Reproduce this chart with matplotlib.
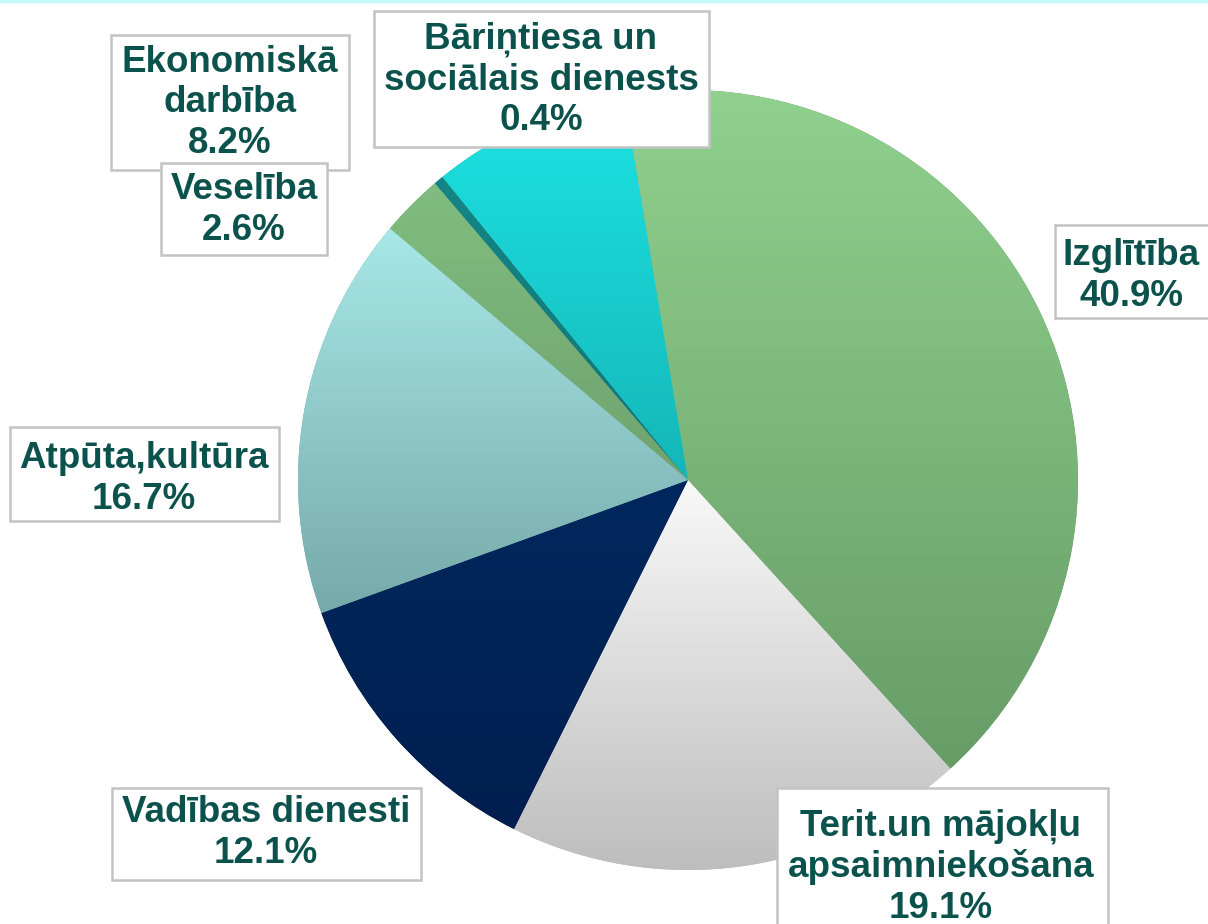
import numpy as np
import matplotlib.pyplot as plt
from matplotlib.patches import Rectangle
from matplotlib.colors import LinearSegmentedColormap

plt.rcParams['font.family'] = ['Liberation Sans', 'DejaVu Sans']

labels = ['Izglītība', 'Terit.un mājokļu\napsaimniekošana', 'Vadības dienesti',
          'Atpūta,kultūra', 'Veselība', 'Bāriņtiesa un\nsociālais dienests',
          'Ekonomiskā\ndarbība']
shares = [40.9, 19.1, 12.1, 16.7, 2.6, 0.4, 8.2]
# top / bottom colour of each slice gradient
grad_top = ['#90d18e', '#f9f9f9', '#00285e', '#a8e8e8', '#80bd80', '#158585', '#1ee3e3']
grad_bot = ['#679c67', '#bdbdbd', '#001f4f', '#76a9aa', '#6fa36f', '#0f7777', '#14b6b8']

# label box layout in pixels (left, top, right, bottom) and text centre
boxes = [(1055, 225, 1212, 318), (777, 788, 1108, 930), (112, 788, 421, 880),
         (10, 427, 279, 521), (161, 163, 327, 255), (374, 11, 709, 147),
         (111, 35, 349, 170)]
text_pos = [(1131, 276), (941, 867), (266, 833), (144, 479), (244, 210),
            (541, 80), (230, 103)]
box_z = [5, 5, 5, 5, 6, 5, 4]

W, H = 1208, 924
fig = plt.figure(figsize=(W / 100, H / 100), dpi=100)
ax = fig.add_axes([0, 0, 1, 1])

cx, cy, r = 688, H - 480, 390
wedges, _ = ax.pie(shares, startangle=99.5, counterclock=False,
                   center=(cx, cy), radius=r, colors=grad_bot,
                   wedgeprops=dict(linewidth=0))

for w, c1, c2 in zip(wedges, grad_top, grad_bot):
    t = np.radians(np.linspace(w.theta1, w.theta2, 100))
    xs = np.concatenate([[cx], cx + r * np.cos(t)])
    ys = np.concatenate([[cy], cy + r * np.sin(t)])
    cmap = LinearSegmentedColormap.from_list('g', [c2, c1])
    grad = np.linspace(0, 1, 256).reshape(-1, 1)
    im = ax.imshow(grad, cmap=cmap, origin='lower', aspect='auto',
                   extent=(xs.min() - 2, xs.max() + 2, ys.min() - 2, ys.max() + 2),
                   zorder=2)
    im.set_clip_path(w)

ax.set_xlim(0, W)
ax.set_ylim(0, H)
ax.set_aspect('equal')
ax.axis('off')

# thin cyan line at the top
ax.axhline(H - 1, color='#c6f7f9', lw=2.5, zorder=1)

for lab, s, (x0, y0, x1, y1), (tx, ty), z in zip(labels, shares, boxes, text_pos, box_z):
    ax.add_patch(Rectangle((x0, H - y1), x1 - x0, y1 - y0, facecolor='white',
                           edgecolor='#c3c3c3', lw=1.8, zorder=z))
    ax.text(tx, H - ty, f'{lab}\n{s:.1f}%', ha='center', va='center',
            fontsize=26.5, fontweight='bold', color='#0b524d',
            linespacing=1.2, zorder=z + 0.5)

fig.savefig('out.png', dpi=100)
